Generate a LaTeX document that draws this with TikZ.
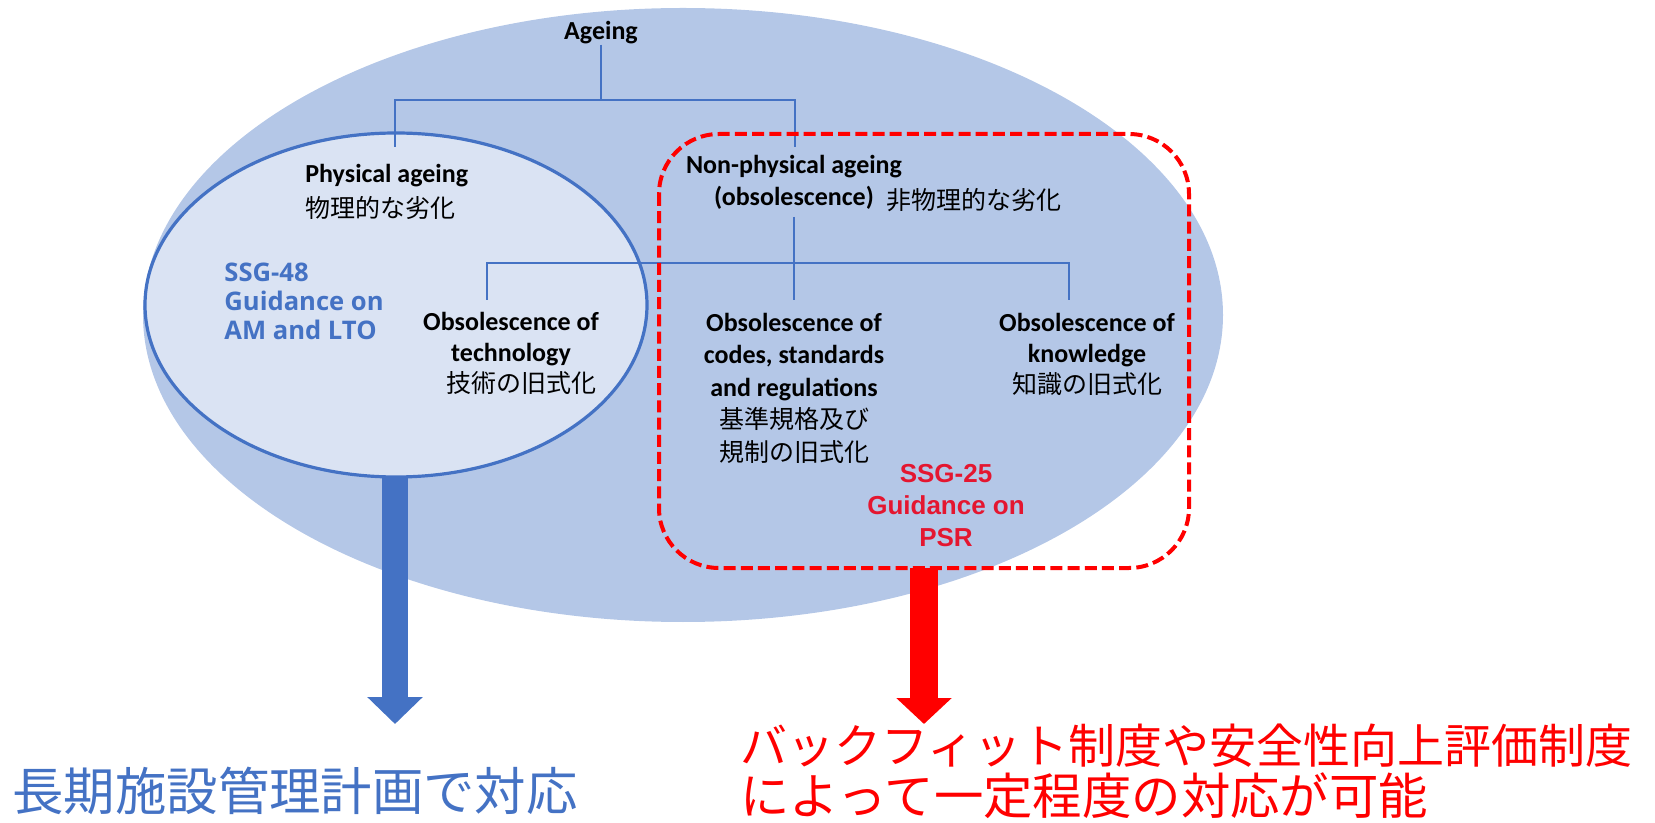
\documentclass[tikz,border=0pt]{standalone}
\usepackage{fontspec}
\setmainfont{Carlito}
\newfontfamily\jpfont{Noto Sans CJK JP}
\newfontfamily\ssgfont{Open Sans}
\newfontfamily\arialfont{Liberation Sans}
\usetikzlibrary{arrows.meta}
\definecolor{bigfill}{RGB}{180,199,231}
\definecolor{innerfill}{RGB}{218,227,243}
\definecolor{accent}{RGB}{68,114,196}
\definecolor{ssgred}{RGB}{228,22,48}
\definecolor{pure}{RGB}{255,0,0}
\newcommand{\jpl}[1]{{\jpfont\mdseries\fontsize{12.5}{16}\selectfont #1}}
\begin{document}
\begin{tikzpicture}[x=0.5pt,y=-0.5pt,
  treeline/.style={draw=accent, line width=0.75pt},
  lbl/.style={inner sep=0pt, text=black, align=center},
  engb/.style={font=\bfseries\fontsize{13}{#1}\selectfont},
  reddash/.style={draw=pure, line width=2pt, dash pattern=on 6pt off 2.6pt, rounded corners=30pt},
  bigarrow/.style={line width=#1, line cap=butt},
]
\useasboundingbox (0,0) rectangle (1655,823);
% ellipses
\fill[bigfill] (683,315) ellipse [x radius=540, y radius=307];
\filldraw[fill=innerfill, draw=accent, line width=1.6pt] (396,305) ellipse [x radius=251, y radius=172];

% labels
\node[lbl, engb=16pt] (ageing) at (601,33) {Ageing};
\node[lbl, engb=17.5pt, align=left, anchor=west] (phys) at (305,192) {Physical ageing\\\jpl{物理的な劣化}};
\node[lbl, engb=16pt] (np) at (794,182) {Non-physical ageing\\(obsolescence)};
\node[lbl, anchor=west] (npjp) at (886,200) {\jpl{非物理的な劣化}};
\node[lbl, engb=15.5pt] (tech) at (511,353) {Obsolescence of\\technology\\\hspace*{10pt}\jpl{技術の旧式化}};
\node[lbl, engb=16.25pt] (codes) at (794,388) {Obsolescence of\\codes, standards\\and regulations\\\jpl{基準規格及び}\\\jpl{規制の旧式化}};
\node[lbl, engb=15.5pt] (know) at (1087,354) {Obsolescence of\\knowledge\\\jpl{知識の旧式化}};
\node[lbl, align=left, anchor=west, text=accent, font=\ssgfont\bfseries\fontsize{12.8}{14.5}\selectfont] (ssg48) at (224,301) {SSG-48\\Guidance on\\AM and LTO};
\node[lbl, text=ssgred, font=\arialfont\bfseries\fontsize{13}{16}\selectfont] (ssg25) at (946,506) {SSG-25\\Guidance on\\PSR};

% tree connectors
\coordinate (jl) at (395,100);
\coordinate (jr) at (795,100);
\coordinate (pl) at (395,147);
\coordinate (pr) at (795,147);
\coordinate (k0) at (794,217);
\coordinate (kl) at (487,263);
\coordinate (kr) at (1069,263);
\coordinate (tl) at (487,300);
\coordinate (tc) at (794,300);
\coordinate (tr) at (1069,300);
\draw[treeline] (ageing.south) -- (ageing.south |- jr);
\draw[treeline] (pl) |- (jr) -- (pr);
\draw[treeline] (k0) -- (tc);
\draw[treeline] (tl) |- (kr) -- (tr);

% red dashed box
\draw[reddash] (659,134) rectangle (1189,568);

% arrows
\coordinate (innerbot) at (395,477);
\coordinate (bluetip) at (395,724);
\coordinate (boxbot) at (924,568);
\coordinate (redtip) at (924,724);
\draw[bigarrow=13pt, accent, -{Triangle[width=27pt,length=13.5pt]}] (innerbot) -- (bluetip);
\draw[bigarrow=14pt, pure, -{Triangle[width=27pt,length=13pt]}] (boxbot) -- (redtip);

% bottom texts
\node[lbl, anchor=west, text=accent, font=\jpfont\fontsize{25.7}{30}\selectfont] (bluetxt) at (12,791) {長期施設管理計画で対応};
\node[lbl, anchor=west, text=pure, font=\jpfont\fontsize{23.5}{28}\selectfont] (redtxt1) at (740,746) {バックフィット制度や安全性向上評価制度};
\node[lbl, anchor=west, text=pure, font=\jpfont\fontsize{24.7}{28}\selectfont] (redtxt2) at (740,796) {によって一定程度の対応が可能};
\end{tikzpicture}
\end{document}
